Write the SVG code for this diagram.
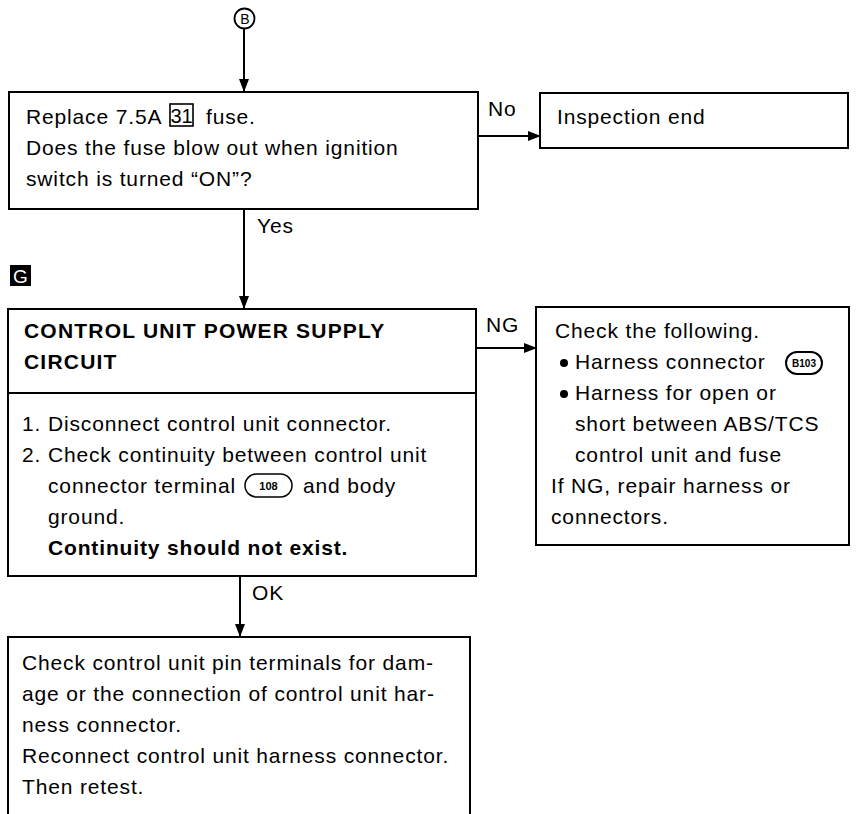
<svg xmlns="http://www.w3.org/2000/svg" width="856" height="814" viewBox="0 0 856 814">
<style>
  text { font-family: "Liberation Sans", Arial, sans-serif; font-size: 21px; fill: #000; letter-spacing: 0.85px; }
  .b { font-weight: bold; }
  .hd { font-weight: bold; letter-spacing: 1.2px; }
  .box { fill: #fff; stroke: #000; stroke-width: 2; }
  .ln { fill: none; stroke: #000; stroke-width: 2; }
  .small { font-size: 11px; font-weight: bold; letter-spacing: 0; }
</style>
<defs>
  <marker id="ah" markerWidth="14" markerHeight="12" refX="12" refY="6" orient="auto" markerUnits="userSpaceOnUse">
    <path d="M0,1 L13,6 L0,11 Z" fill="#000"/>
  </marker>
</defs>
<rect width="856" height="814" fill="#fff"/>

<g id="connectors">
  <line class="ln" x1="244" y1="29" x2="244" y2="91" marker-end="url(#ah)"/>
  <line class="ln" x1="478" y1="136" x2="540" y2="136" marker-end="url(#ah)"/>
  <line class="ln" x1="244" y1="209" x2="244" y2="308" marker-end="url(#ah)"/>
  <line class="ln" x1="476" y1="348" x2="536" y2="348" marker-end="url(#ah)"/>
  <line class="ln" x1="240" y1="576" x2="240" y2="636" marker-end="url(#ah)"/>
  <text x="488" y="116">No</text>
  <text x="257" y="233">Yes</text>
  <text x="486" y="332">NG</text>
  <text x="252" y="600">OK</text>
</g>

<g id="ref-B">
  <circle cx="244.5" cy="18.5" r="10" fill="#fff" stroke="#000" stroke-width="1.8"/>
  <text x="245" y="23.5" text-anchor="middle" style="font-size:14px;letter-spacing:0">B</text>
</g>

<g id="n1">
  <rect class="box" x="9" y="92" width="469" height="117"/>
  <text x="26" y="124">Replace 7.5A</text>
  <rect x="170" y="104" width="23" height="22" fill="none" stroke="#000" stroke-width="1.6"/>
  <text x="181.5" y="123" text-anchor="middle" style="font-size:20px;letter-spacing:0">31</text>
  <text x="206" y="124">fuse.</text>
  <text x="26" y="155">Does the fuse blow out when ignition</text>
  <text x="26" y="186">switch is turned “ON”?</text>
</g>

<g id="n2">
  <rect class="box" x="540" y="93" width="308" height="55"/>
  <text x="557" y="124">Inspection end</text>
</g>

<g id="label-G">
  <rect x="10" y="265" width="21" height="21" fill="#000"/>
  <text x="20.5" y="283" text-anchor="middle" style="font-size:19px;fill:#fff;letter-spacing:0">G</text>
</g>

<g id="n3">
  <rect class="box" x="8" y="309" width="468" height="267"/>
  <line class="ln" x1="8" y1="393" x2="476" y2="393"/>
  <text class="hd" x="24" y="338">CONTROL UNIT POWER SUPPLY</text>
  <text class="hd" x="24" y="369">CIRCUIT</text>
  <text x="22" y="431">1. Disconnect control unit connector.</text>
  <text x="22" y="462">2. Check continuity between control unit</text>
  <text x="48" y="493">connector terminal</text>
  <rect x="245" y="474" width="47" height="23" rx="11.5" fill="none" stroke="#000" stroke-width="1.5"/>
  <text x="268.5" y="490" text-anchor="middle" class="small">108</text>
  <text x="303" y="493">and body</text>
  <text x="48" y="524">ground.</text>
  <text class="b" x="48" y="555">Continuity should not exist.</text>
</g>

<g id="n4">
  <rect class="box" x="536" y="307" width="313" height="238"/>
  <text x="555" y="338">Check the following.</text>
  <circle cx="564" cy="363" r="4" fill="#000"/>
  <text x="575" y="369">Harness connector</text>
  <rect x="786" y="352" width="36" height="22" rx="11" fill="none" stroke="#000" stroke-width="2"/>
  <text x="804" y="367" text-anchor="middle" class="small" style="font-size:10px">B103</text>
  <circle cx="564" cy="394" r="4" fill="#000"/>
  <text x="575" y="400">Harness for open or</text>
  <text x="575" y="431">short between ABS/TCS</text>
  <text x="575" y="462">control unit and fuse</text>
  <text x="551" y="493">If NG, repair harness or</text>
  <text x="551" y="524">connectors.</text>
</g>

<g id="n5">
  <rect class="box" x="8" y="637" width="462" height="190"/>
  <text x="22" y="670">Check control unit pin terminals for dam-</text>
  <text x="22" y="701">age or the connection of control unit har-</text>
  <text x="22" y="732">ness connector.</text>
  <text x="22" y="763">Reconnect control unit harness connector.</text>
  <text x="22" y="794">Then retest.</text>
</g>
</svg>
